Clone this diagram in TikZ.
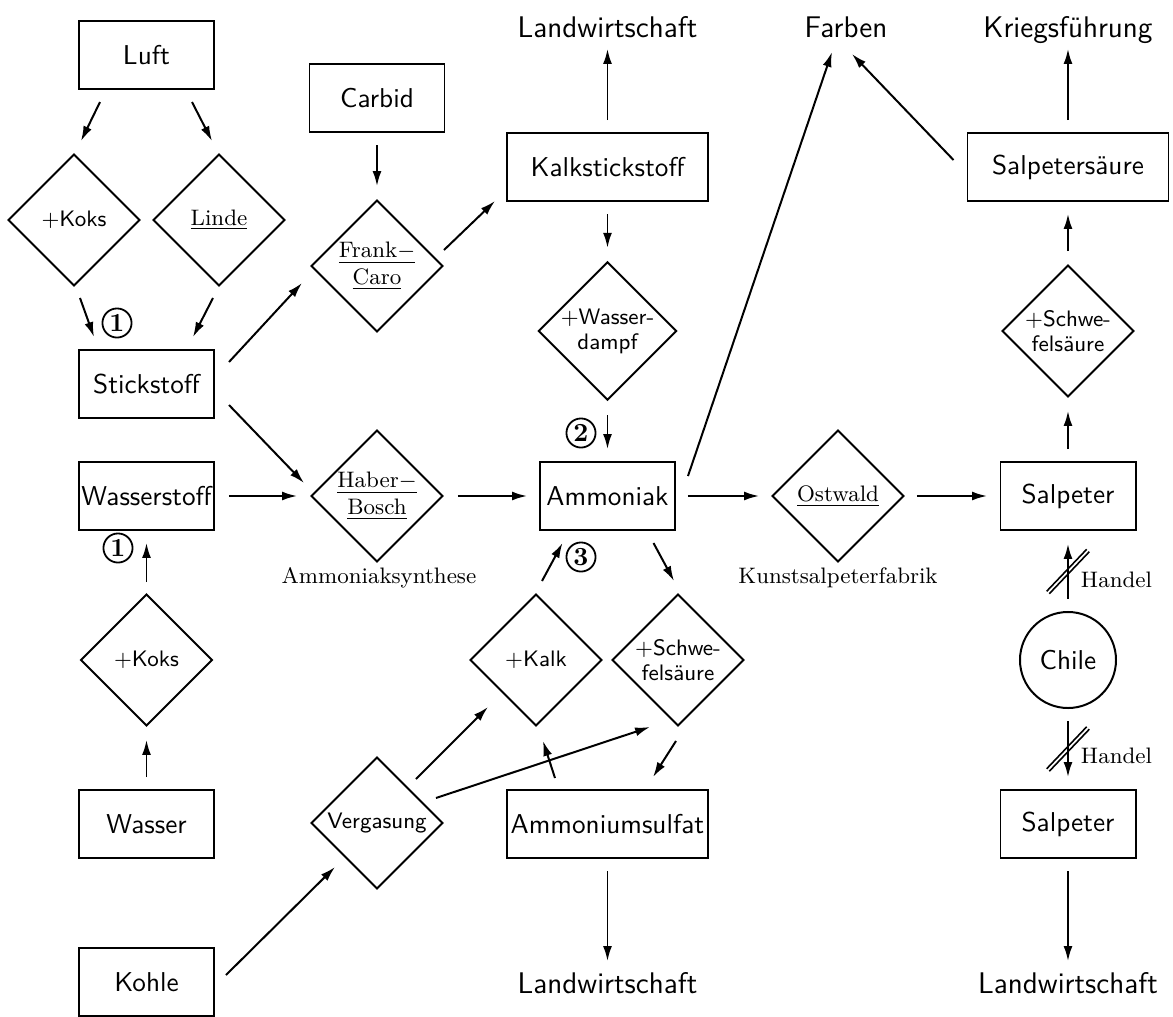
\documentclass[tikz,border=0pt]{standalone}
\usetikzlibrary{shapes.geometric,arrows.meta}

% font sizes for the different kinds of labels (11pt scheme)
\newcommand\bxfont{\sffamily\fontsize{10.95}{13.6}\selectfont}
\newcommand\dmfont{\sffamily\fontsize{9}{10.1}\selectfont}
\newcommand\ulfont{\rmfamily\fontsize{9}{11.1}\selectfont}
\newcommand\capfont{\rmfamily\fontsize{9}{11}\selectfont}
\newcommand\tipfont{\sffamily\fontsize{12}{14.5}\selectfont}

\tikzset{
  stoff/.style={draw, rectangle, minimum width=54.27pt, minimum height=27.34pt, inner sep=0pt, font=\bxfont},
  wide/.style={stoff, minimum width=80.8pt},
  proc/.style={draw, diamond, aspect=1, minimum width=53.06pt, minimum height=53.06pt, inner sep=0pt, align=center, font=\dmfont},
  uproc/.style={proc, font=\ulfont},
  endlbl/.style={anchor=base, inner sep=0pt, font=\tipfont},
  caption/.style={inner sep=0pt, font=\capfont},
  num/.style={draw, circle, minimum size=11.7pt, inner sep=0pt, line width=0.72pt, font=\rmfamily\bfseries\fontsize{10.5}{10.5}\selectfont},
  arr/.style={-{Latex[length=6pt,width=3.6pt]}, line width=0.8pt},
  slash/.style={line width=0.64pt},
}

\begin{document}
\begin{tikzpicture}[x=0.402pt, y=-0.402pt, line width=0.8pt]
\useasboundingbox (0,0) rectangle (1173,1017);

% left column
\node[stoff] (luft) at (146.5,55) {Luft};
\node[proc] (koksA) at (74,220) {+Koks};
\node[uproc] (linde) at (219,220) {\underline{Linde}};
\node[stoff] (stick) at (146.5,384) {Stickstoff};
\node[stoff] (wstoff) at (146.5,496) {Wasserstoff};
\node[proc] (koksB) at (146.5,660) {+Koks};
\node[stoff] (wasser) at (146.5,824) {Wasser};
\node[stoff] (kohle) at (146.5,982) {Kohle};

% second column
\node[stoff] (carbid) at (377,98) {Carbid};
\node[uproc] (frank) at (377,266) {\underline{Frank$-$}\\\underline{Caro}};
\node[uproc] (haber) at (377,496) {\underline{Haber$-$}\\\underline{Bosch}};
\node[caption] (synth) at (379,578) {Ammoniaksynthese};
\node[proc] (verg) at (377,823) {Vergasung};

% ammonia column
\node[endlbl] (landA) at (607.5,37) {Landwirtschaft};
\node[wide] (kalk) at (607.5,167) {Kalkstickstoff};
\node[proc] (dampf) at (607.5,331) {+Wasser-\\dampf};
\node[stoff] (ammon) at (607.5,496) {Ammoniak};
\node[proc] (kalkD) at (536,660) {+Kalk};
\node[proc] (schwM) at (678,660) {+Schwe-\\felsäure};
\node[wide] (asulf) at (607.5,824) {Ammoniumsulfat};
\node[endlbl] (landB) at (607.5,993) {Landwirtschaft};

% Ostwald process
\node[endlbl] (farben) at (846,37) {Farben};
\node[uproc] (ostwald) at (838,496) {\underline{Ostwald}};
\node[caption] (fabrik) at (838,578) {Kunstsalpeterfabrik};

% right column
\node[endlbl] (krieg) at (1068,37) {Kriegsführung};
\node[wide] (salpS) at (1068,167) {Salpetersäure};
\node[proc] (schwR) at (1068,331) {+Schwe-\\felsäure};
\node[stoff] (salp) at (1068,496) {Salpeter};
\node[draw, circle, minimum size=38.6pt, inner sep=0pt, font=\bxfont] (chile) at (1068,660) {Chile};
\node[stoff] (salp2) at (1068,824) {Salpeter};
\node[endlbl] (landC) at (1068,993) {Landwirtschaft};

% numbered marks
\node[num] (n1a) at (117,323) {1};
\node[num] (n1b) at (118,548) {1};
\node[num] (n2) at (581,433) {2};
\node[num] (n3) at (581,557) {3};

% connectors
\draw[arr] ([shift={(-46.5,12)}]luft.south) -- ([shift={(7,-12)}]koksA.north);
\draw[arr] ([shift={(45.5,12)}]luft.south) -- ([shift={(-7,-12)}]linde.north);
\draw[arr] ([shift={(6,11)}]koksA.south) -- ([shift={(-52.5,-12)}]stick.north);
\draw[arr] ([shift={(-6,11)}]linde.south) -- ([shift={(46.5,-12)}]stick.north);
\draw[arr] ([shift={(14,-22)}]stick.east) -- ([shift={(-8,17)}]frank.west);
\draw[arr] ([shift={(0,12)}]carbid.south) -- ([shift={(0,-13)}]frank.north);
\draw[arr] ([shift={(0,-16)}]frank.east) -- ([shift={(-11,-1)}]kalk.south west);
\draw[arr] ([shift={(0,-12)}]kalk.north) -- ([shift={(0,12)}]landA.base);
\draw[arr] ([shift={(0,12)}]kalk.south) -- ([shift={(0,-13)}]dampf.north);
\draw[arr] ([shift={(0,14)}]dampf.south) -- ([shift={(0,-12)}]ammon.north);
\draw[arr] ([shift={(14,21)}]stick.east) -- ([shift={(-6,-13)}]haber.west);
\draw[arr] ([shift={(14,0)}]wstoff.east) -- ([shift={(-13,0)}]haber.west);
\draw[arr] ([shift={(14,0)}]haber.east) -- ([shift={(-12,0)}]ammon.west);
\draw[arr] ([shift={(12,-20)}]ammon.east) -- ([shift={(-14,15)}]farben.base);
\draw[arr] ([shift={(12,0)}]ammon.east) -- ([shift={(-12,0)}]ostwald.west);
\draw[arr] ([shift={(12,0)}]ostwald.east) -- ([shift={(-12.5,0)}]salp.west);
\draw[arr] ([shift={(0,-12)}]salp.north) -- ([shift={(0,13)}]schwR.south);
\draw[arr] ([shift={(0,-13)}]schwR.north) -- ([shift={(0,12)}]salpS.south);
\draw[arr] ([shift={(0,-12)}]salpS.north) -- ([shift={(0,12)}]krieg.base);
\draw[arr] ([shift={(-13,-7)}]salpS.west) -- ([shift={(6,17)}]farben.base);
\draw[arr] ([shift={(46,12)}]ammon.south) -- ([shift={(-4,-12)}]schwM.north);
\draw[arr] ([shift={(6,-12)}]kalkD.north) -- ([shift={(-45,12)}]ammon.south);
\draw[arr] ([shift={(39,-44)}]verg.center) -- ([shift={(-48,47)}]kalkD.center);
\draw[arr] ([shift={(59,-25)}]verg.center) -- ([shift={(-28,67)}]schwM.center);
\draw[arr] ([shift={(-52.5,-11)}]asulf.north) -- ([shift={(7,14)}]kalkD.south);
\draw[arr] ([shift={(-2,14)}]schwM.south) -- ([shift={(45.5,-12)}]asulf.north);
\draw[arr] ([shift={(0,12)}]asulf.south) -- ([shift={(0,-32)}]landB.base);
\draw[arr] ([shift={(11,-7)}]kohle.east) -- ([shift={(-42,44)}]verg.center);
\draw[arr] ([shift={(0,-11)}]koksB.north) -- ([shift={(0,12)}]wstoff.south);
\draw[arr] ([shift={(0,-12)}]wasser.north) -- ([shift={(0,13)}]koksB.south);
\draw[arr] ([shift={(0,-12)}]chile.north) -- coordinate[pos=0.5] (h1) ([shift={(0,13)}]salp.south);
\draw[arr] ([shift={(0,12)}]chile.south) -- coordinate[pos=0.5] (h2) ([shift={(0,-12)}]salp2.north);
\draw[arr] ([shift={(0,12)}]salp2.south) -- ([shift={(0,-32)}]landC.base);

% trade marks across the Chile connectors
\draw[slash] ([shift={(-21.3,19.75)}]h1) -- ([shift={(18.7,-22.25)}]h1);
\draw[slash] ([shift={(-18.7,22.25)}]h1) -- ([shift={(21.3,-19.75)}]h1);
\draw[slash] ([shift={(-21.3,19.75)}]h2) -- ([shift={(18.7,-22.25)}]h2);
\draw[slash] ([shift={(-18.7,22.25)}]h2) -- ([shift={(21.3,-19.75)}]h2);
\node[caption, anchor=west] (hd1) at ([shift={(12,8)}]h1) {Handel};
\node[caption, anchor=west] (hd2) at ([shift={(12,7)}]h2) {Handel};
\end{tikzpicture}
\end{document}
